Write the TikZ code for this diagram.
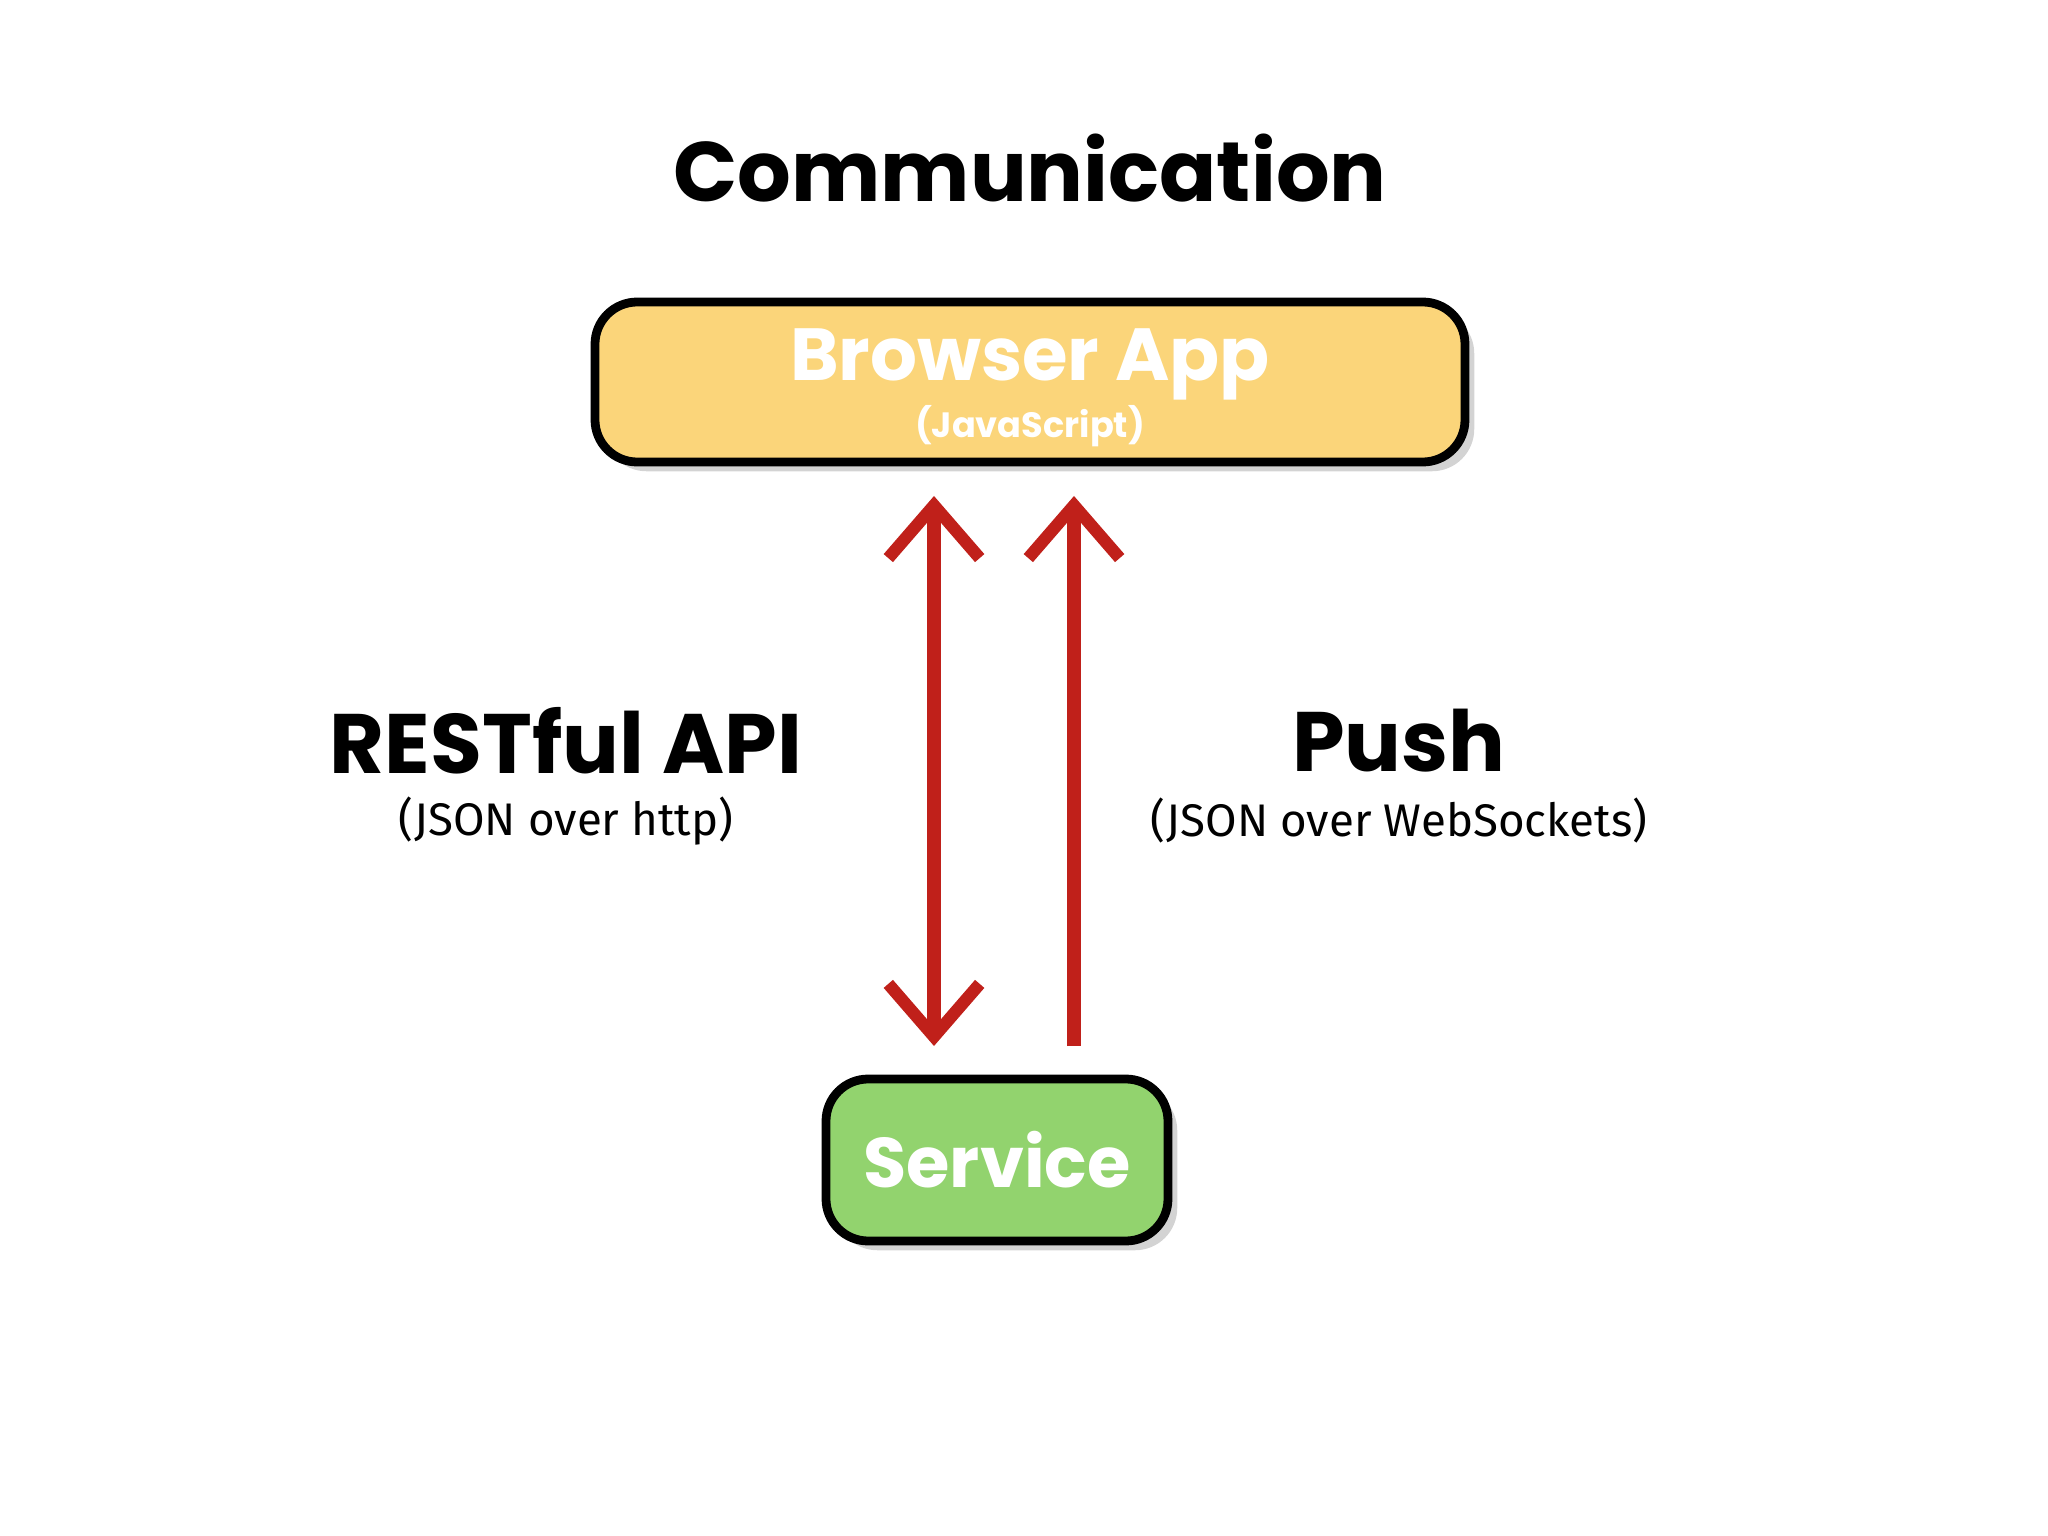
\documentclass[tikz,border=0pt]{standalone}
\usepackage{fontspec}
\setmainfont{Fira Sans}
\newfontfamily\heavy{Poppins}[UprightFont=* Bold]
\usetikzlibrary{arrows.meta,shadows}
\definecolor{appyellow}{HTML}{FBD57A}
\definecolor{svcgreen}{HTML}{92D36E}
\definecolor{arrred}{HTML}{C0201A}
\begin{document}
\begin{tikzpicture}[
  box/.style={draw=black,line width=2.5pt,rounded corners=12pt,drop shadow={opacity=0.35}},
  boxtext/.style={text=white,font=\heavy},
  conn/.style={arrred,line width=4pt,{Straight Barb[length=15pt,width=26pt,line width=3.5pt]}-{Straight Barb[length=15pt,width=26pt,line width=3.5pt]}},
  push/.style={arrred,line width=4pt,-{Straight Barb[length=15pt,width=26pt,line width=3.5pt]}}
]
\useasboundingbox (0,0) rectangle (20.48,-15.36);
\node[font=\heavy\fontsize{24}{26}\selectfont] (title) at (10.30,-1.68) {Communication};

\node[box,fill=appyellow,minimum width=8.7cm,minimum height=1.6cm] (app) at (10.30,-3.82) {};
\node[boxtext,font=\heavy\fontsize{21}{23}\selectfont] (apptxt) at (10.30,-3.64) {Browser App};
\node[boxtext,font=\heavy\fontsize{10}{11}\selectfont] (appsub) at (10.30,-4.26) {(JavaScript)};

\node[box,fill=svcgreen,minimum width=3.42cm,minimum height=1.62cm] (svc) at (9.97,-11.60) {};
\node[boxtext,font=\heavy\fontsize{20}{22}\selectfont] (svctxt) at (9.97,-11.60) {Service};

\coordinate (lt) at (9.34,-4.96);
\coordinate (lb) at (9.34,-10.46);
\coordinate (rt) at (10.74,-4.96);
\coordinate (rb) at (10.74,-10.46);
\draw[conn] (lb) -- (lt);
\draw[push] (rb) -- (rt);

\node[font=\heavy\fontsize{24}{26}\selectfont] (rest) at (5.66,-7.41) {RESTful API};
\node[font=\fontsize{13}{15}\selectfont] (restsub) at (5.66,-8.21) {(JSON over http)};
\node[font=\heavy\fontsize{24}{26}\selectfont] (push) at (13.99,-7.41) {Push};
\node[font=\fontsize{13}{15}\selectfont] (pushsub) at (13.99,-8.21) {(JSON over WebSockets)};
\end{tikzpicture}
\end{document}
